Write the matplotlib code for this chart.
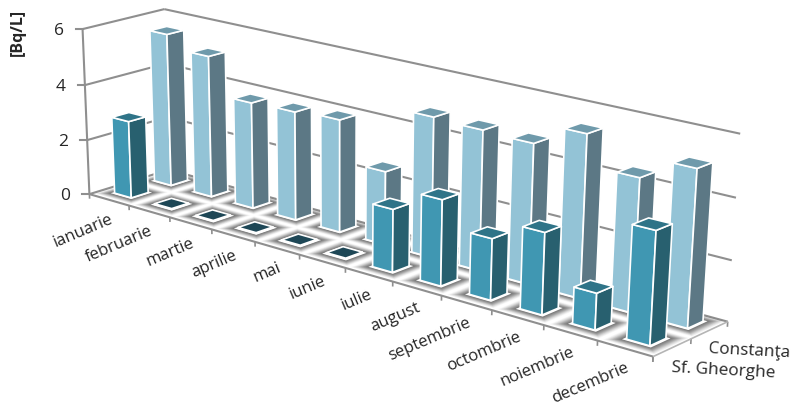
import numpy as np
import matplotlib
matplotlib.use("Agg")
import matplotlib.pyplot as plt
from matplotlib.patches import Polygon

months = ["ianuarie", "februarie", "martie", "aprilie", "mai", "iunie", "iulie",
          "august", "septembrie", "octombrie", "noiembrie", "decembrie"]
series_names = ["Sf. Gheorghe", "Constanţa"]
sf_gheorghe = [2.8, 0, 0, 0, 0, 0, 2.15, 2.9, 2.05, 2.7, 1.2, 3.65]
constanta = [5.55, 5.1, 3.8, 3.85, 3.95, 2.55, 4.8, 4.75, 4.7, 5.4, 4.4, 5.1]
z_ticks = [0, 2, 4, 6]

plt.rcParams["font.family"] = ["Open Sans", "DejaVu Sans"]

W, H = 793, 413
fig = plt.figure(figsize=(W / 100, H / 100), dpi=100)
ax = fig.add_axes([0, 0, 1, 1])
ax.set_xlim(0, W)
ax.set_ylim(H, 0)
ax.axis("off")

# Pinhole camera solved from the plot box corners: (month, series, level) -> canvas
box_world = np.array([[0, 0, 0], [0, 2, 0], [12, 2, 0], [12, 0, 0],
                      [0, 0, 6], [0, 2, 6], [12, 2, 6]], float)
box_canvas = np.array([[90, 192], [168, 172], [728, 320], [653, 358],
                       [82, 30], [165, 8], [740, 134]], float)
rows = []
for (X, Y, Z), (u, v) in zip(box_world, box_canvas):
    rows.append([X, Y, Z, 1, 0, 0, 0, 0, -u * X, -u * Y, -u * Z, -u])
    rows.append([0, 0, 0, 0, X, Y, Z, 1, -v * X, -v * Y, -v * Z, -v])
camera = np.linalg.svd(np.array(rows))[2][-1].reshape(3, 4)


def project(x, y, z):
    h = camera @ np.array([x, y, z, 1.0])
    return h[0] / h[2], h[1] / h[2]


GRID = "#8f8f8f"
TEXT = "#262626"


def segment(a, b, lw=1.5, color=GRID, zorder=1):
    p, q = project(*a), project(*b)
    ax.plot([p[0], q[0]], [p[1], q[1]], color=color, lw=lw, zorder=zorder,
            solid_capstyle="butt")


# Floor
floor = [project(0, 0, 0), project(0, 2, 0), project(12, 2, 0), project(12, 0, 0)]
ax.add_patch(Polygon(floor, closed=True, fc="white", ec="none", zorder=0.5))

# Walls and level gridlines
for level in z_ticks:
    segment((0, 0, level), (0, 2, level))
    segment((0, 2, level), (12, 2, level))
    p = project(0, 0, level)
    ax.plot([p[0] - 7, p[0]], [p[1], p[1]], color=GRID, lw=1.5, zorder=1)
    ax.text(p[0] - 19, p[1] + 2, str(level), ha="right", va="center",
            fontsize=12.5, color=TEXT)
segment((0, 0, 0), (0, 0, 6))
segment((0, 0, 0), (12, 0, 0), zorder=1.5)
segment((12, 0, 0), (12, 2, 0), lw=1.2, color="#b5b5b5", zorder=1.5)

# Axis tick marks on the floor edges
for i in range(13):
    segment((i, 0, 0), (i, 0, -0.17), lw=1.2)
for j in range(3):
    segment((12, j, 0), (12, j, -0.17), lw=1.2)

# Month labels along the front edge
for i, name in enumerate(months):
    p = project(i + 0.5, 0, 0)
    ax.text(p[0] + 3, p[1] + 19, name, rotation=23, rotation_mode="anchor",
            ha="right", va="center", fontsize=12, color=TEXT)

# Series labels past the right edge
ax.text(790, 353, series_names[1], rotation=-3, rotation_mode="anchor", ha="right",
        va="center", fontsize=12.3, color=TEXT)
ax.text(775, 373, series_names[0], rotation=-3, rotation_mode="anchor", ha="right",
        va="center", fontsize=12.3, color=TEXT)

ax.text(18, 32, "[Bq/L]", rotation=90, ha="center", va="center", fontsize=11.5,
        fontweight="bold", color=TEXT)


def draw_bar(x0, y0, value, side, faces, order):
    x1, y1 = x0 + side, y0 + side
    # Soft contact shadow spreading out over the floor
    for k, m in enumerate(np.linspace(0.25, 0.06, 12)):
        quad = [project(x0 - m, y0 - m, 0), project(x1 + m, y0 - m, 0),
                project(x1 + m, y1 + m, 0), project(x0 - m, y1 + m, 0)]
        ax.add_patch(Polygon(quad, closed=True, fc="#5a5a5a", ec="none",
                             alpha=0.04 + 0.016 * k, zorder=order))
    rim = [project(x0 - 0.05, y0 - 0.05, 0), project(x1 + 0.05, y0 - 0.05, 0),
           project(x1 + 0.05, y1 + 0.05, 0), project(x0 - 0.05, y1 + 0.05, 0)]
    ax.add_patch(Polygon(rim, closed=True, fc="white", ec="none", zorder=order))
    z = max(value, 0.03)
    front = [project(x0, y0, 0), project(x1, y0, 0), project(x1, y0, z), project(x0, y0, z)]
    right = [project(x1, y0, 0), project(x1, y1, 0), project(x1, y1, z), project(x1, y0, z)]
    top = [project(x0, y0, z), project(x1, y0, z), project(x1, y1, z), project(x0, y1, z)]
    # An empty month leaves only a dark cap lying on the floor
    top_color = faces[2] if value > 0 else "#1e4756"
    for quad, color in ((front, faces[0]), (right, faces[1]), (top, top_color)):
        ax.add_patch(Polygon(quad, closed=True, fc=color, ec="white", lw=1.2,
                             joinstyle="round", zorder=order))


LIGHT = ("#93c3d6", "#5c7885", "#6f9aab")
TEAL = ("#4097b2", "#28606f", "#2f7488")
SIDE = 0.42

# Back row first, then the front row, each from left to right
order = 2.0
for values, faces, y0 in ((constanta, LIGHT, 1.34), (sf_gheorghe, TEAL, 0.34)):
    for i, v in enumerate(values):
        draw_bar(i + 0.5 - SIDE / 2, y0, v, SIDE, faces, order)
        order += 0.01

fig.savefig("out.png", dpi=100)
